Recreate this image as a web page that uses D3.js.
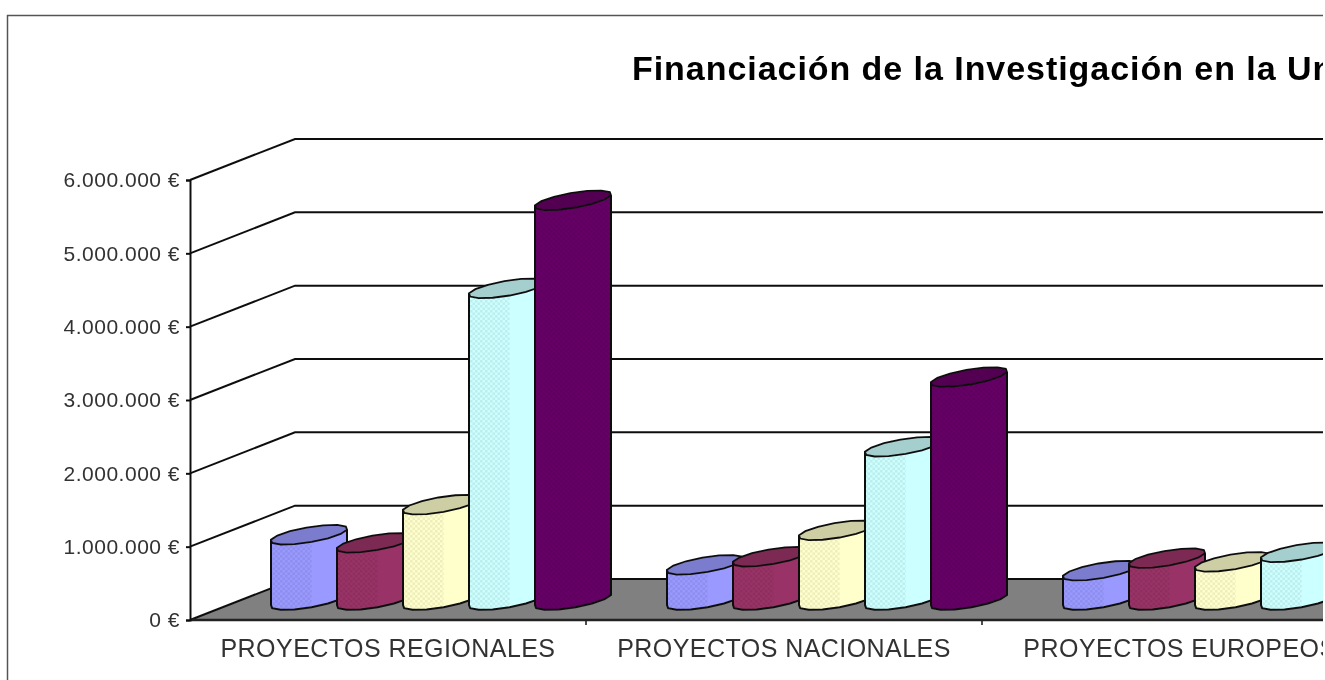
<!DOCTYPE html>
<html>

<head>
  <meta charset="utf-8">
  <title>Financiación de la Investigación</title>
  <script src="https://cdn.jsdelivr.net/npm/d3@7/dist/d3.min.js"></script>
  <style>
    html, body { margin: 0; padding: 0; background: #fff; overflow: hidden; }
    svg { display: block; }
    text { font-family: "Liberation Sans", Arial, sans-serif; }
  </style>
</head>

<body>
  <svg id="chart" width="1325" height="680"></svg>

  <script>
    var categories = ["PROYECTOS REGIONALES", "PROYECTOS NACIONALES", "PROYECTOS EUROPEOS"];
    var seriesNames = ["s1", "s2", "s3", "s4", "s5"];
    var seriesColors = ["#9999FF", "#993366", "#FFFFCC", "#CCFFFF", "#660066"];
    var regionales = [890000, 780000, 1300000, 4250000, 5450000];
    var nacionales = [480000, 590000, 950000, 2090000, 3040000];
    var europeos = [400000, 570000, 520000, 650000]; // the fifth column is outside the picture
    var tickValues = [0, 1000000, 2000000, 3000000, 4000000, 5000000, 6000000];
    var title = "Financiación de la Investigación en la Un";

    var values = [regionales, nacionales, europeos];

    var svg = d3.select("#chart"),
      width = +svg.attr("width"),
      height = +svg.attr("height");

    var depthX = 105, depthY = -41;   // front wall to back wall
    var baseY = 20;                   // column base sits this far above the front floor edge

    var y = d3.scaleLinear().domain([0, 6000000]).range([620, 180]);
    var x = d3.scaleBand().domain(categories).range([190, 190 + 396 * 3]);
    var xInner = d3.scaleBand().domain(seriesNames).range([81, 411]);

    var locale = d3.formatLocale({ decimal: ",", thousands: ".", grouping: [3], currency: ["", " €"] });
    var euro = locale.format("$,.0f");

    var defs = svg.append("defs");
    defs.append("clipPath").attr("id", "page").append("rect")
      .attr("x", 0).attr("y", 0).attr("width", 1323).attr("height", height);
    defs.append("filter").attr("id", "soft")
      .attr("filterUnits", "userSpaceOnUse")
      .attr("x", 0).attr("y", 0).attr("width", width).attr("height", height)
      .append("feGaussianBlur").attr("stdDeviation", 0.6);

    // dither used on the left half of each column
    seriesNames.forEach(function (s, i) {
      var base = d3.color(seriesColors[i]);
      var dot = base.darker(i == 4 ? 0.2 : 0.2);
      var p = defs.append("pattern").attr("id", "dither" + i)
        .attr("width", 5).attr("height", 5).attr("patternUnits", "userSpaceOnUse");
      p.append("rect").attr("width", 5).attr("height", 5).attr("fill", base);
      p.append("rect").attr("width", 2.5).attr("height", 2.5).attr("fill", dot);
      p.append("rect").attr("x", 2.5).attr("y", 2.5).attr("width", 2.5).attr("height", 2.5).attr("fill", dot);
    });

    var g = svg.append("g").attr("clip-path", "url(#page)");
    var soft = g.append("g").attr("filter", "url(#soft)");

    // frame of the original sheet
    soft.append("path").attr("d", "M7.5,680V15.5H1325").attr("fill", "none").attr("stroke", "#555").attr("stroke-width", 1.5);

    // floor
    soft.append("path")
      .attr("d", d3.line()([[190, y(0)], [190 + depthX, y(0) + depthY], [width, y(0) + depthY], [width, y(0)]]) + "Z")
      .attr("fill", "#808080");

    // grid lines over the side and back wall
    soft.append("g").selectAll("path")
      .data(tickValues)
      .enter()
      .append("path")
      .attr("d", d => d3.line()([[190, y(d)], [190 + depthX, y(d) + depthY], [width, y(d) + depthY]]))
      .attr("fill", "none")
      .attr("stroke", "#111")
      .attr("stroke-width", 2);

    // front edge, axis and ticks
    soft.append("line").attr("x1", 190).attr("x2", width).attr("y1", y(0)).attr("y2", y(0))
      .attr("stroke", "#222").attr("stroke-width", 2.5);

    var axis = d3.axisLeft(y).tickValues(tickValues).tickSize(4).tickPadding(6).tickFormat(euro);
    var axisG = soft.append("g").attr("transform", "translate(190,0)").call(axis);
    axisG.selectAll("path,line").attr("stroke", "#111").attr("stroke-width", 2);
    axisG.selectAll("text")
      .attr("font-size", 21).attr("font-family", "Liberation Sans")
      .attr("letter-spacing", 0.5).attr("fill", "#333");

    // separators under the categories
    soft.selectAll(".cat-tick")
      .data(categories)
      .enter()
      .append("line")
      .attr("class", "cat-tick")
      .attr("x1", d => x(d) + x.bandwidth()).attr("x2", d => x(d) + x.bandwidth())
      .attr("y1", y(0)).attr("y2", y(0) + 5)
      .attr("stroke", "#222").attr("stroke-width", 1.6);

    soft.selectAll(".cat-label")
      .data(categories)
      .enter()
      .append("text")
      .attr("class", "cat-label")
      .attr("x", d => x(d) + x.bandwidth() / 2)
      .attr("y", 657)
      .attr("text-anchor", "middle")
      .attr("font-size", 25)
      .attr("letter-spacing", 0.45)
      .attr("fill", "#333")
      .text(d => d);

    soft.append("text")
      .attr("x", 632).attr("y", 80)
      .attr("font-size", 34).attr("font-weight", "bold")
      .attr("letter-spacing", 0.95).attr("fill", "#000")
      .text(title);

    // column ellipse, deliberately low-poly like the source
    var e1 = [38, -5], e2 = [-6, 8.5];
    function ellipsePoint(c, t) {
      return [c[0] + e1[0] * Math.cos(t) + e2[0] * Math.sin(t),
              c[1] + e1[1] * Math.cos(t) + e2[1] * Math.sin(t)];
    }
    var line = d3.line();
    var facets = 7;

    function drawColumn(parent, cat, i, value) {
      var cx = x(cat) + xInner(seriesNames[i]) + 38,
        bottom = y(0) - baseY,
        top = bottom - (y(0) - y(value));
      var c = d3.select(parent).append("g");
      var base = d3.color(seriesColors[i]);

      var front = d3.range(facets + 1).map(k => ellipsePoint([cx, bottom], Math.PI - k * Math.PI / facets));
      var frontTop = d3.range(facets + 1).map(k => ellipsePoint([cx, top], Math.PI - k * Math.PI / facets));

      // whole body, then the dithered left part on top of it
      c.append("path")
        .attr("d", line(front.concat(frontTop.slice().reverse())) + "Z")
        .attr("fill", base);
      var split = i == 4 ? facets : 4;
      c.append("path")
        .attr("d", line(front.slice(0, split + 1).concat(frontTop.slice(0, split + 1).reverse())) + "Z")
        .attr("fill", "url(#dither" + i + ")");

      // outline of the body
      var outline = [frontTop[0]].concat(front, [frontTop[facets]]);
      c.append("path").attr("d", line(outline)).attr("fill", "none").attr("stroke", "#111").attr("stroke-width", 2);

      // top cap
      var cap = d3.range(14).map(k => ellipsePoint([cx, top], k * 2 * Math.PI / 14));
      c.append("path")
        .attr("d", line(cap) + "Z")
        .attr("fill", base.darker(0.6))
        .attr("stroke", "#111")
        .attr("stroke-width", 1.8);
    }

    var groups = soft.append("g").selectAll("g")
      .data(categories)
      .enter()
      .append("g");

    groups.each(function (cat, j) {
      var parent = this;
      values[j].forEach(function (v, i) { drawColumn(parent, cat, i, v); });
    });
  </script>
</body>

</html>
